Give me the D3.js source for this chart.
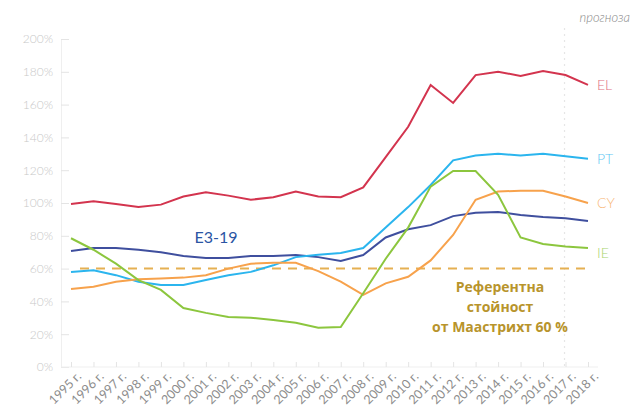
<!DOCTYPE html>
<html><head><meta charset="utf-8">
<script src="https://cdn.jsdelivr.net/npm/d3@7"></script>
<style>
body{margin:0;background:#fff;}
svg{display:block;font-family:Lato,"Open Sans",sans-serif;}
</style></head><body>
<svg id="c" width="633" height="407"></svg>
<script>
const years = ["1995","1996","1997","1998","1999","2000","2001","2002","2003","2004","2005","2006","2007","2008","2009","2010","2011","2012","2013","2014","2015","2016","2017","2018"];
const yTicks = [0,20,40,60,80,100,120,140,160,180,200];
const EL = [99.4,101,99.4,97.5,99,104,106.5,104.5,102,103.5,107,104,103.5,109.5,128,146.5,172,161,178,180,177.5,180.5,178,172];
const PT = [58,59,56,52,50,50,53,56,58,62,67,68.5,69.5,72.5,85,97.5,111,126,129,130,129,130,128.5,127];
const CY = [47.5,49,52,53.5,54,54.5,56,60,63,63.5,63.5,58.5,52,44,51,55,65,80.5,102,107,107.5,107.5,104,100];
const IE = [78.5,71.5,63,53,47,36,33,30.5,30,28.7,27,24,24.4,45,66,85,110,119.5,119.5,105,79,75,73.5,72.5];
const EA = [70.7,72.5,72.5,71.5,70,67.7,66.5,66.5,67.7,67.7,68.3,67,64.6,68.3,79,84,86.5,92,94,94.5,92.7,91.5,90.7,89];
const refValue = 60;
const forecastYear = "2017";
const seriesNames = ["EL","PT","CY","IE"];
const seriesData = [EL,PT,CY,IE];
const seriesColors = ["#d3344e","#2bb5ee","#f7a24c","#8cc63e"];
const labelColors = ["#e0707f","#62c7f2","#f8b676","#a8d46e"];
const eaColor = "#3f4f9e";

const svg = d3.select("#c");
const x = d3.scalePoint().domain(years).range([71,588]);
const y = d3.scaleLinear().domain([0,200]).range([367,39]);

// forecast separator
svg.append("line").attr("x1",x(forecastYear)-1).attr("x2",x(forecastYear)-1)
  .attr("y1",28).attr("y2",367).attr("stroke","#e6e6e6").attr("stroke-width",1.2)
  .attr("stroke-dasharray","2,4");
svg.append("text").attr("x",630).attr("y",22).attr("text-anchor","end")
  .attr("font-size",13).attr("font-style","italic").attr("font-weight",300).attr("fill","#8a8a8a").text("прогноза");

// y axis
const ya = svg.append("g").attr("transform","translate(61,0)")
  .call(d3.axisLeft(y).tickValues(yTicks).tickSizeInner(-8).tickSizeOuter(0).tickPadding(8).tickFormat(d=>d+"%"));
ya.select(".domain").attr("stroke","#efefef");
ya.selectAll(".tick line").attr("stroke","#e4e4e4");
ya.selectAll(".tick text").attr("fill","#c8c8c8").attr("font-size",12).attr("font-weight",300).attr("font-family","Lato,sans-serif");

// x axis
const xa = svg.append("g").attr("transform","translate(0,367)")
  .call(d3.axisBottom(x).tickSizeInner(-5).tickSizeOuter(0).tickFormat(()=>""));
xa.select(".domain").attr("d","M61,0H598").attr("stroke","#efefef");
xa.selectAll(".tick line").attr("stroke","#e4e4e4");
svg.append("g").selectAll("text").data(years).join("text")
  .attr("transform",d=>`translate(${x(d)+8},${374}) rotate(-45)`)
  .attr("text-anchor","end").attr("dy","0.35em")
  .attr("font-size",12.5).attr("fill","#8c8c8c").attr("font-family","Lato,sans-serif")
  .text(d=>d+" г.");

// reference line
svg.append("line").attr("x1",x(years[0])+9).attr("x2",x(years[years.length-1]))
  .attr("y1",y(refValue)).attr("y2",y(refValue))
  .attr("stroke","#e5b052").attr("stroke-width",2).attr("stroke-dasharray","9,7");

const line = d3.line().x((d,i)=>x(years[i])).y(d=>y(d));
svg.append("path").datum(EA).attr("d",line).attr("fill","none").attr("stroke",eaColor).attr("stroke-width",2);
seriesData.forEach((s,k)=>{
  svg.append("path").datum(s).attr("d",line).attr("fill","none")
    .attr("stroke",seriesColors[k]).attr("stroke-width",2);
});

// right labels
seriesData.forEach((s,k)=>{
  svg.append("text").attr("x",597).attr("y",y(s[s.length-1])+ (k===3?5:0))
    .attr("dy","0.35em").attr("font-size",14).attr("font-weight",300)
    .attr("fill",labelColors[k]).text(seriesNames[k]);
});

svg.append("text").attr("x",216).attr("y",243).attr("text-anchor","middle")
  .attr("font-size",16).attr("fill","#2b55a3").text("Е3-19");

const refLines = ["Референтна","стойност","от Маастрихт 60 %"];
svg.append("g").selectAll("text").data(refLines).join("text")
  .attr("x",500).attr("y",(d,i)=>292+i*20).attr("text-anchor","middle")
  .attr("font-size",14).attr("font-weight",700).attr("fill","#b8942c")
  .attr("font-family","'Open Sans',sans-serif").text(d=>d);
</script>
</body></html>
